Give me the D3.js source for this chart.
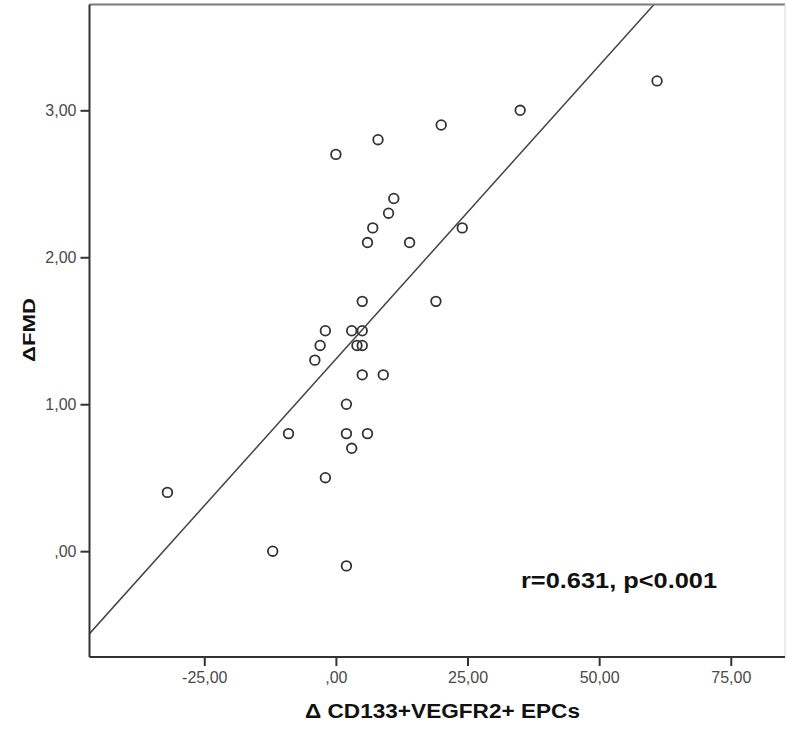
<!DOCTYPE html>
<html>
<head>
<meta charset="utf-8">
<script src="https://cdn.jsdelivr.net/npm/d3@7"></script>
<style>
  html, body { margin: 0; padding: 0; background: #fff; }
  svg { display: block; }
</style>
</head>
<body>
<script>
// Change in CD133+VEGFR2+ EPCs (x) against change in FMD (y), one entry per patient
const deltaEPC = [61, 35, 20, 8, 0, 11, 10, 7, 6, 14, 24, 5, 19, -2, 3, 5, -3, 4, 5, -4, 5, 9, 2, -9, 2, 6, 3, -2, -32, -12, 2];
const deltaFMD = [3.2, 3.0, 2.9, 2.8, 2.7, 2.4, 2.3, 2.2, 2.1, 2.1, 2.2, 1.7, 1.7, 1.5, 1.5, 1.5, 1.4, 1.4, 1.4, 1.3, 1.2, 1.2, 1.0, 0.8, 0.8, 0.8, 0.7, 0.5, 0.4, 0.0, -0.1];

const xTickValues = [-25, 0, 25, 50, 75];
const xTickLabels = ["-25,00", ",00", "25,00", "50,00", "75,00"];
const yTickValues = [0, 1, 2, 3];
const yTickLabels = [",00", "1,00", "2,00", "3,00"];

const xTitle = "Δ CD133+VEGFR2+ EPCs";
const yTitle = "ΔFMD";
const statsText = "r=0.631, p<0.001";

const W = 787, H = 731;
const plot = { left: 89.5, top: 4.5, right: 785, bottom: 657 };

const svg = d3.select("body").append("svg").attr("width", W).attr("height", H);

const x = d3.scaleLinear().domain([-46.8, 85.3]).range([plot.left, plot.right]);
const y = d3.scaleLinear().domain([-0.72, 3.72]).range([plot.bottom, plot.top]);

// Ordinary least-squares fit line
const n = deltaEPC.length;
const mx = d3.mean(deltaEPC), my = d3.mean(deltaFMD);
let sxy = 0, sxx = 0;
for (let i = 0; i < n; i++) {
  sxy += (deltaEPC[i] - mx) * (deltaFMD[i] - my);
  sxx += (deltaEPC[i] - mx) ** 2;
}
const slope = sxy / sxx;
const intercept = my - slope * mx;

svg.append("defs").append("clipPath").attr("id", "plotClip")
  .append("rect")
  .attr("x", plot.left).attr("y", plot.top)
  .attr("width", plot.right - plot.left).attr("height", plot.bottom - plot.top);

const [x0, x1] = x.domain();
svg.append("line")
  .attr("clip-path", "url(#plotClip)")
  .attr("x1", x(x0)).attr("y1", y(intercept + slope * x0))
  .attr("x2", x(x1)).attr("y2", y(intercept + slope * x1))
  .attr("stroke", "#444").attr("stroke-width", 1.5);

// Frame
svg.append("line").attr("x1", plot.left).attr("x2", plot.right).attr("y1", plot.top).attr("y2", plot.top)
  .attr("stroke", "#7a7a7a").attr("stroke-width", 2);
svg.append("line").attr("x1", plot.right).attr("x2", plot.right).attr("y1", plot.top).attr("y2", plot.bottom)
  .attr("stroke", "#d8d8d8").attr("stroke-width", 1);
svg.append("line").attr("x1", plot.left).attr("x2", plot.right).attr("y1", plot.bottom).attr("y2", plot.bottom)
  .attr("stroke", "#333").attr("stroke-width", 2);
svg.append("line").attr("x1", plot.left).attr("x2", plot.left).attr("y1", plot.top).attr("y2", plot.bottom)
  .attr("stroke", "#333").attr("stroke-width", 2);

// Axes
const yAxis = d3.axisLeft(y).tickValues(yTickValues).tickSize(9).tickPadding(4)
  .tickFormat((d, i) => yTickLabels[i]);
const gy = svg.append("g").attr("transform", `translate(${plot.left},0)`).call(yAxis);

const xAxis = d3.axisBottom(x).tickValues(xTickValues).tickSize(9).tickPadding(6)
  .tickFormat((d, i) => xTickLabels[i]);
const gx = svg.append("g").attr("transform", `translate(0,${plot.bottom})`).call(xAxis);

[gx, gy].forEach(g => {
  g.select(".domain").remove();
  g.selectAll(".tick line").attr("stroke", "#333").attr("stroke-width", 2);
  g.selectAll(".tick text")
    .attr("fill", "#4a4a4a")
    .style("font-family", "'Liberation Sans', Arial, sans-serif")
    .style("font-size", "16px");
});

// Points
svg.append("g").selectAll("circle")
  .data(deltaEPC.map((v, i) => [v, deltaFMD[i]]))
  .join("circle")
  .attr("cx", d => x(d[0]))
  .attr("cy", d => y(d[1]))
  .attr("r", 4.8)
  .attr("fill", "none")
  .attr("stroke", "#333")
  .attr("stroke-width", 1.8);

// Titles
svg.append("text")
  .attr("x", 442.5).attr("y", 718)
  .attr("text-anchor", "middle")
  .attr("textLength", 275).attr("lengthAdjust", "spacingAndGlyphs")
  .style("font-family", "'Liberation Sans', Arial, sans-serif")
  .style("font-weight", "bold").style("font-size", "19.5px")
  .attr("fill", "#111")
  .text(xTitle);

svg.append("text")
  .attr("transform", "translate(35,330) rotate(-90)")
  .attr("text-anchor", "middle")
  .attr("textLength", 64).attr("lengthAdjust", "spacingAndGlyphs")
  .style("font-family", "'Liberation Sans', Arial, sans-serif")
  .style("font-weight", "bold").style("font-size", "17px")
  .attr("fill", "#111")
  .text(yTitle);

svg.append("text")
  .attr("x", 521).attr("y", 588)
  .attr("textLength", 196).attr("lengthAdjust", "spacingAndGlyphs")
  .style("font-family", "'Liberation Sans', Arial, sans-serif")
  .style("font-weight", "bold").style("font-size", "22px")
  .attr("fill", "#111")
  .text(statsText);
</script>
</body>
</html>
